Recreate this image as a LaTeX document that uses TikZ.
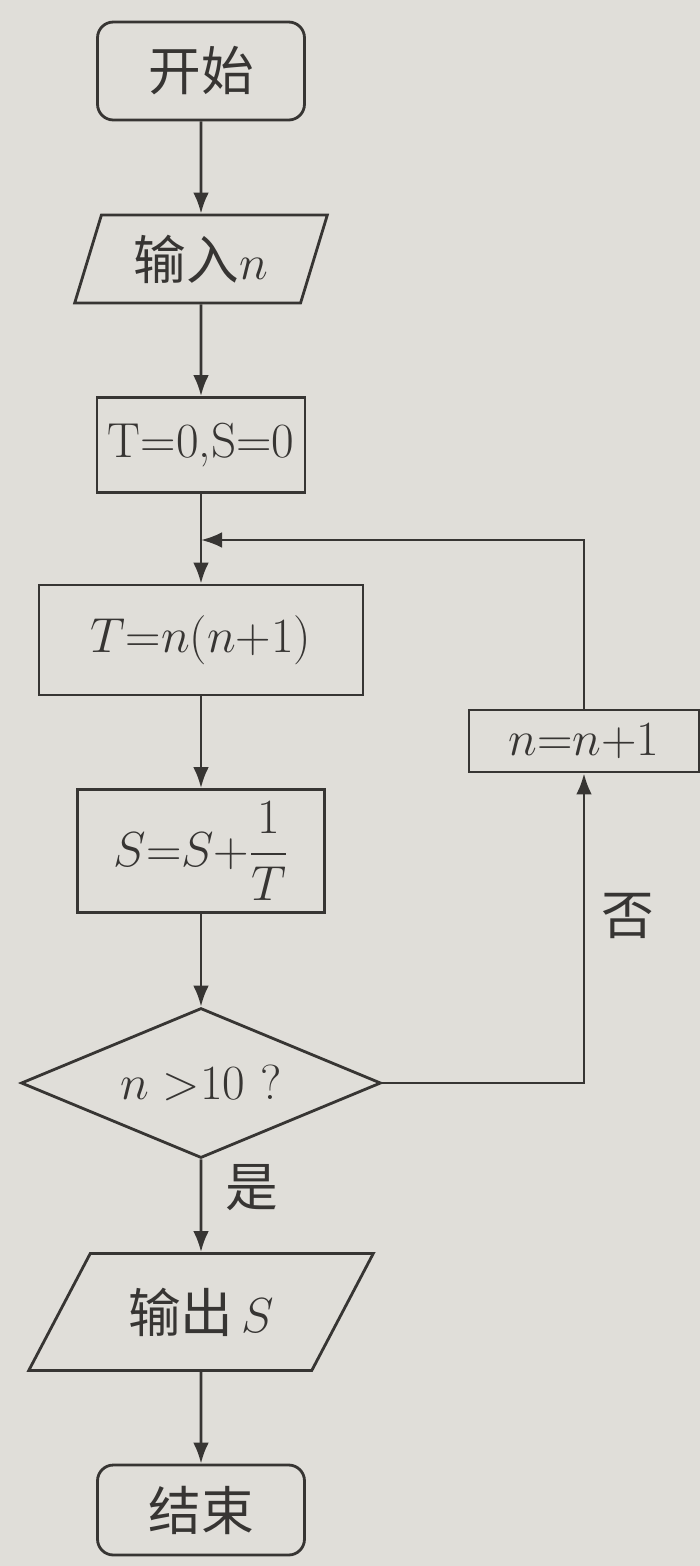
\RequirePackage{fix-cm}
\documentclass[tikz,border=0pt]{standalone}
\usepackage{amsmath}
\usepackage{fontspec}
\newfontfamily\cjk{Noto Sans CJK SC}[Scale=1.07]
\usepackage{xcolor}
\usetikzlibrary{arrows.meta,shapes.geometric,calc}
\definecolor{paper}{RGB}{224,222,217}
\definecolor{ink}{RGB}{55,53,51}

\begin{document}
\begin{tikzpicture}[x=0.02cm, y=-0.02cm, every node/.style={align=center, text=ink, font=\fontsize{28}{32}\selectfont}]
\tikzset{
  termbox/.style={draw=ink, line width=1.6pt, rounded corners=9pt},
  procbox/.style={draw=ink, line width=1.6pt},
  iobox/.style={draw=ink, line width=1.6pt, trapezium, trapezium stretches=true},
  decbox/.style={draw=ink, line width=1.6pt, diamond, aspect=2.4, inner sep=0pt},
  flow/.style={draw=ink, line width=1.6pt, -{Latex[length=12pt,width=9pt]}}
}
\fill[paper] (0,0) rectangle (700,1566);
\useasboundingbox (0,0) rectangle (700,1566);
% main column
\node[termbox, minimum width=4.14cm, minimum height=1.96cm] (start) at (201,71) {\cjk 开始};
\node[iobox, trapezium left angle=72, trapezium right angle=108, minimum width=5.06cm, minimum height=1.76cm] (input) at (201,259) {{\cjk 输入}$n$};
\node[procbox, minimum width=4.16cm, minimum height=1.9cm] (init) at (201,445) {T=0,S=0};
\node[procbox, minimum width=6.48cm, minimum height=2.2cm] (calcT) at (201,640) {$T{=}n(n{+}1)$};
\node[procbox, minimum width=4.94cm, minimum height=2.46cm] (calcS) at (201,851) {$S{=}S{+}\dfrac{1}{T}$};
\node[decbox, minimum width=7.2cm, minimum height=3cm] (test) at (201,1083) {$n>$10 ?};
\node[iobox, trapezium left angle=54, trapezium right angle=126, minimum width=6.9cm, minimum height=2.34cm] (output) at (201,1312) {{\cjk 输出}$\,S$};
\node[termbox, minimum width=4.14cm, minimum height=1.8cm] (stop) at (201,1510) {\cjk 结束};
% loop side
\node[procbox, minimum width=4.6cm, minimum height=1.24cm] (incn) at (584,741) {$n{=}n{+}1$};
\coordinate (join) at (201,540);
\draw[flow] (start) -- (input);
\draw[flow] (input) -- (init);
\draw[flow] (init) -- (calcT);
\draw[flow] (calcT) -- (calcS);
\draw[flow] (calcS) -- (test);
\draw[flow] (test) -- node[right=10pt, pos=0.3] {\cjk 是} (output);
\draw[flow] (output) -- (stop);
\draw[flow] (test.east) -| node[right=6pt, pos=0.77] {\cjk 否} (incn.south);
\draw[flow] (incn.north) |- (join);
\end{tikzpicture}
\end{document}
